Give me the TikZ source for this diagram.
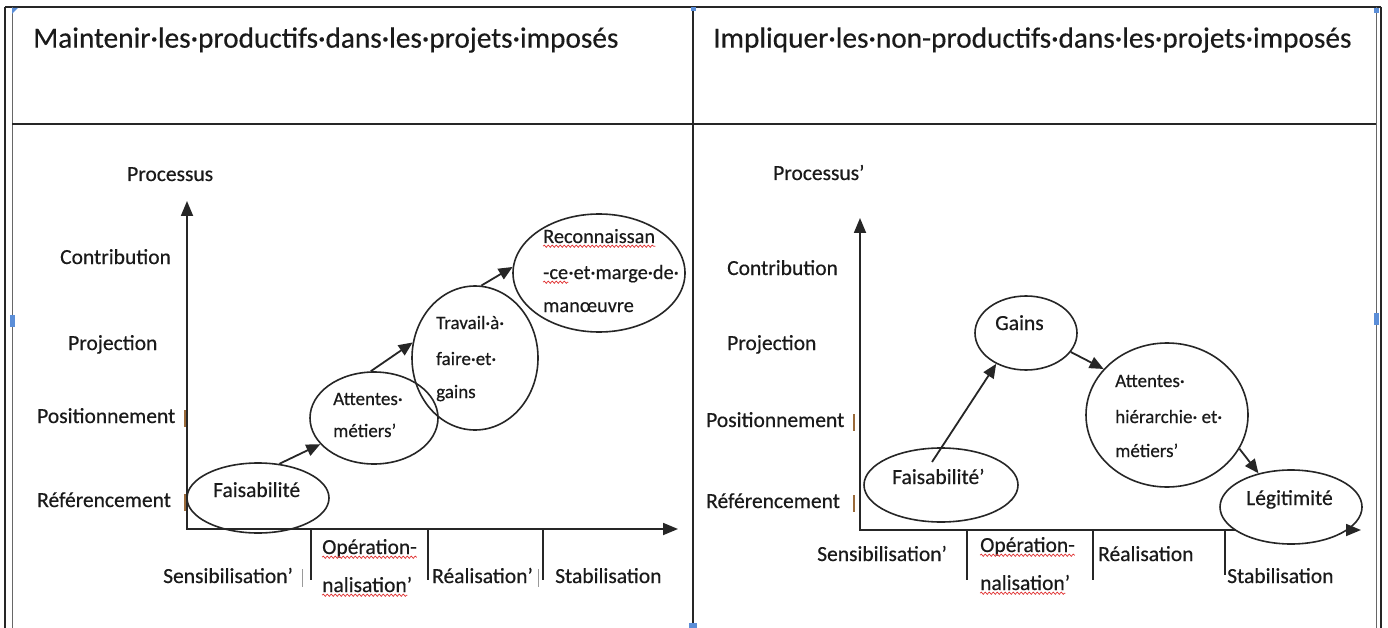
\documentclass[tikz,border=0pt]{standalone}
\usepackage{fontspec}
\setmainfont{Carlito}[FakeBold=0.4]
\usetikzlibrary{arrows.meta,shapes.geometric,decorations.pathmorphing}
\definecolor{ink}{HTML}{1A1A1A}
\definecolor{rule}{HTML}{262626}
\definecolor{handle}{HTML}{5B8ED8}
\definecolor{cursor}{HTML}{9A6A3A}
\definecolor{caret}{HTML}{9A9A9A}
\definecolor{wavy}{HTML}{E03030}
\begin{document}
\begin{tikzpicture}[x=1pt,y=-1pt,
  lab/.style={anchor=west,inner sep=0pt,text=ink,font=\fontsize{21.5}{25}\selectfont,text height=14pt,text depth=4pt},
  sml/.style={lab,font=\fontsize{19}{23}\selectfont},
  big/.style={lab,font=\fontsize{20.3}{25}\selectfont},
  ttl/.style={anchor=west,inner sep=0pt,text=ink,font=\fontsize{29.3}{34}\selectfont},
  bubble/.style={draw=rule,line width=1.6pt,ellipse,inner sep=0pt},
  axis/.style={draw=rule,line width=1.8pt},
  tipend/.style={draw=rule,line width=1.8pt,-{Triangle[length=15pt,width=12pt]}},
  link/.style={draw=rule,line width=1.8pt,-{Triangle[length=14pt,width=12pt]}},
  tickline/.style={draw=rule,line width=1.4pt},
  frame/.style={draw=rule,line width=1.4pt},
  thinframe/.style={draw=rule!70,line width=1pt},
  wave/.style={draw=wavy,line width=0.7pt,decorate,decoration={snake,amplitude=1.1pt,segment length=4pt}},
  bar/.style={draw=cursor,line width=1.2pt},
  gbar/.style={draw=caret,line width=1pt}
]
\useasboundingbox (0,0) rectangle (1388,628);
\fill[white] (0,0) rectangle (1388,628);

% ---------- table frame ----------
\draw[frame] (5,7) -- (1381,7);
\draw[frame] (5,7) -- (5,628);
\draw[thinframe] (12,7) -- (12,628);
\draw[thinframe] (1376,7) -- (1376,628);
\draw[frame] (1381,7) -- (1381,628);
\draw[frame] (693,7) -- (693,628);
\draw[frame] (12,124) -- (1376,124);
\fill[handle] (12,8) -- (18,8) -- (12,14) -- cycle;
\fill[handle] (691,7) rectangle (696,11);
\fill[handle] (1374,8) rectangle (1379,13);
\fill[handle] (10,315) rectangle (15,327);
\fill[handle] (1374,313) rectangle (1379,325);
\fill[handle] (689,623) rectangle (697,628);

% ---------- titles ----------
\node[ttl] (ttlA) at (33,40) {Maintenir·les·productifs·dans·les·projets·imposés};
\node[ttl] (ttlB) at (713,40) {Impliquer·les·non-productifs·dans·les·projets·imposés};

% ================= LEFT PANEL =================
\coordinate (oA) at (187,529);
\coordinate (yA) at (187,201);
\coordinate (xA) at (678,529);
\draw[axis,{Triangle[length=15pt,width=12pt]}-{Triangle[length=15pt,width=12pt]}] (yA) -- (oA) -- (xA);
\coordinate (kA1) at (311,529); \coordinate (kA1e) at (311,580);
\coordinate (kA2) at (428,529); \coordinate (kA2e) at (428,580);
\coordinate (kA3) at (543,529); \coordinate (kA3e) at (543,580);
\draw[tickline] (kA1) -- (kA1e);
\draw[tickline] (kA2) -- (kA2e);
\draw[tickline] (kA3) -- (kA3e);

\node[lab] (pA) at (127,176) {Processus};
\node[lab] (cA) at (60,259) {Contribution};
\node[lab] (jA) at (68,345) {Projection};
\node[lab] (sA) at (37,418) {Positionnement};
\node[lab] (rA) at (37,502) {Référencement};
\coordinate (bA1) at (185,410); \coordinate (bA1e) at (185,427);
\coordinate (bA2) at (185,494); \coordinate (bA2e) at (185,511);
\draw[bar] (bA1) -- (bA1e);
\draw[bar] (bA2) -- (bA2e);

\node[lab] (xsA) at (163,578) {Sensibilisation'};
\node[lab] (xoA) at (322,549) {Opération-};
\node[lab] (xnA) at (322,587) {nalisation'};
\node[lab] (xrA) at (432,578) {Réalisation'};
\node[lab] (xtA) at (555,578) {Stabilisation};
\coordinate (gA1) at (302,569); \coordinate (gA1e) at (302,587);
\coordinate (gA2) at (538,569); \coordinate (gA2e) at (538,587);
\draw[gbar] (gA1) -- (gA1e);
\draw[gbar] (gA2) -- (gA2e);
\draw[wave] ([yshift=1pt]xoA.south west) -- ([yshift=1pt]xoA.south east);
\draw[wave] ([yshift=1pt]xnA.south west) -- ([xshift=-5pt,yshift=1pt]xnA.south east);

\node[bubble,minimum width=142pt,minimum height=70pt] (fA) at (258,498) {};
\node[bubble,minimum width=128pt,minimum height=92pt] (aA) at (374,418) {};
\node[bubble,minimum width=126pt,minimum height=144pt] (tA) at (475,358) {};
\node[bubble,minimum width=172pt,minimum height=118pt] (rcA) at (599,273) {};

\node[lab] (fAt) at (213,492) {Faisabilité};
\node[sml] (aAt1) at (333,400) {Attentes·};
\node[sml] (aAt2) at (333,432) {métiers'};
\node[sml] (tAt1) at (436,324) {Travail·à·};
\node[sml] (tAt2) at (436,360) {faire·et·};
\node[sml] (tAt3) at (436,393) {gains};
\node[big] (rAt1) at (543,238) {Reconnaissan};
\node[big] (rAt2) at (543,274) {-ce};
\node[big,anchor=west] (rAt2b) at (rAt2.east) {·et·marge·de·};
\node[big] (rAt3) at (543,307) {manœuvre};
\draw[wave] ([yshift=1pt]rAt1.south west) -- ([yshift=1pt]rAt1.south east);
\draw[wave] ([yshift=1pt]rAt2.south west) -- ([yshift=1pt]rAt2.south east);

\draw[link] (fA.58) -- (aA.206);
\draw[link] (aA.94) -- (tA.166);
\draw[link] (tA.85) -- (rcA.176);

% ================= RIGHT PANEL =================
\coordinate (oB) at (860,530);
\coordinate (yB) at (860,218);
\coordinate (xB) at (1348,530);
\coordinate (xBt) at (1361,530);
\draw[axis,{Triangle[length=15pt,width=12pt]}-] (yB) -- (oB) -- (xB);
\coordinate (kB1) at (967,530); \coordinate (kB1e) at (967,580);
\coordinate (kB2) at (1093,530); \coordinate (kB2e) at (1093,580);
\coordinate (kB3) at (1225,530); \coordinate (kB3e) at (1225,575);
\draw[tickline] (kB1) -- (kB1e);
\draw[tickline] (kB2) -- (kB2e);
\draw[tickline] (kB3) -- (kB3e);

\node[lab] (pB) at (773,175) {Processus'};
\node[lab] (cB) at (727,270) {Contribution};
\node[lab] (jB) at (727,345) {Projection};
\node[lab] (sB) at (706,422) {Positionnement};
\node[lab] (rB) at (706,503) {Référencement};
\coordinate (bB1) at (854,414); \coordinate (bB1e) at (854,431);
\coordinate (bB2) at (854,495); \coordinate (bB2e) at (854,512);
\draw[bar] (bB1) -- (bB1e);
\draw[bar] (bB2) -- (bB2e);

\node[lab] (xsB) at (817,556) {Sensibilisation'};
\node[lab] (xoB) at (980,547) {Opération-};
\node[lab] (xnB) at (980,585) {nalisation'};
\node[lab] (xrB) at (1098,556) {Réalisation};
\node[lab] (xtB) at (1227,578) {Stabilisation};
\draw[wave] ([yshift=1pt]xoB.south west) -- ([yshift=1pt]xoB.south east);
\draw[wave] ([yshift=1pt]xnB.south west) -- ([xshift=-5pt,yshift=1pt]xnB.south east);

\node[bubble,minimum width=154pt,minimum height=74pt] (fB) at (941,485) {};
\node[bubble,minimum width=102pt,minimum height=74pt] (gB) at (1026,333) {};
\node[bubble,minimum width=162pt,minimum height=144pt] (aB) at (1167,415) {};
\node[bubble,fill=white,minimum width=142pt,minimum height=74pt] (lB) at (1291,507) {};
\draw[tipend] (xB) -- (xBt);

\node[lab] (fBt) at (892,479) {Faisabilité'};
\node[lab] (gBt) at (995,325) {Gains};
\node[sml] (aBt1) at (1115,382) {Attentes·};
\node[sml] (aBt2) at (1115,418) {hiérarchie· et·};
\node[sml] (aBt3) at (1115,452) {métiers'};
\node[lab] (lBt) at (1246,500) {Légitimité};

\draw[link] ([shift={(-9,-23)}]fB.center) -- (gB.226);
\draw[link] (gB.-23) -- (aB.144);
\draw[link] (aB.-25) -- (lB.134);
\end{tikzpicture}
\end{document}
